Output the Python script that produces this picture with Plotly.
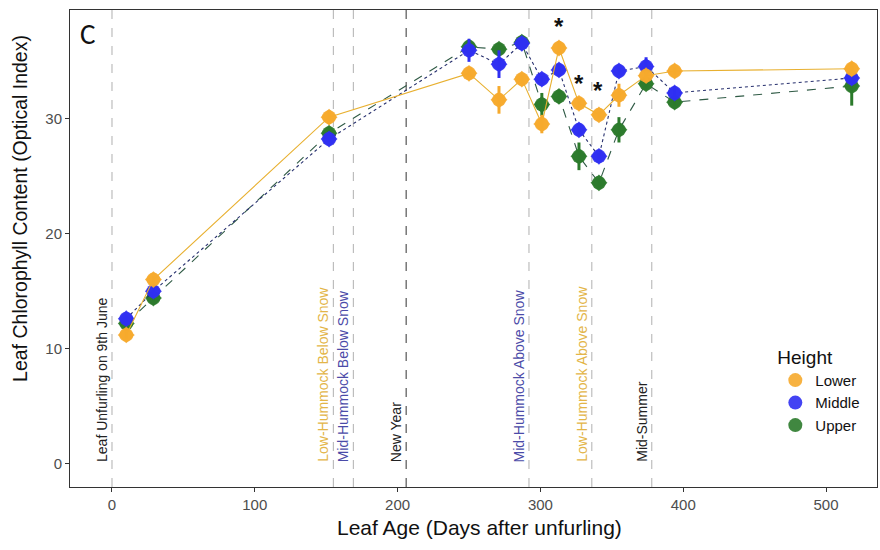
import plotly.graph_objects as go

days = [10, 29, 152, 250, 271, 287, 301, 313, 327, 341, 355, 374, 394, 518]
lower = [11.2, 16.0, 30.1, 33.9, 31.6, 33.4, 29.5, 36.1, 31.3, 30.3, 32.0, 33.7, 34.1, 34.3]
middle = [12.6, 15.0, 28.2, 35.9, 34.7, 36.5, 33.4, 34.2, 29.0, 26.7, 34.1, 34.5, 32.2, 33.5]
upper = [12.2, 14.4, 28.7, 36.2, 36.0, 36.6, 31.2, 31.9, 26.7, 24.4, 29.0, 33.0, 31.4, 32.8]
lower_err = [0.3, 0.3, 0.6, 0.3, 1.2, 0.4, 0.8, 0.6, 0.4, 0.3, 1.0, 0.4, 0.3, 0.6]
middle_err = [0.3, 0.3, 0.3, 1.0, 1.2, 0.5, 0.3, 0.5, 0.5, 0.3, 0.3, 0.8, 0.6, 0.4]
upper_err = [0.3, 0.3, 0.3, 0.6, 0.5, 0.6, 1.0, 0.6, 1.2, 0.4, 1.1, 0.4, 0.3, 1.7]

event_days = [0, 155, 169, 206, 292, 336, 378]
event_labels = ["Leaf Unfurling on 9th June", "Low-Hummock Below Snow", "Mid-Hummock Below Snow",
                "New Year", "Mid-Hummock Above Snow", "Low-Hummock Above Snow", "Mid-Summer"]
event_colors = ["#222222", "#E3B548", "#4B4BA8", "#222222", "#4B4BA8", "#E3B548", "#222222"]

star_x = [313, 327, 340]
star_y = [38.0, 33.0, 32.4]

FONT = "Liberation Sans, Arial, sans-serif"

fig = go.Figure()

series = [
    ("Upper", upper, upper_err, "#2B7A2B", "#2F5A45", "dash", 3),
    ("Middle", middle, middle_err, "#2F2FF2", "#27306E", "dot", 2),
    ("Lower", lower, lower_err, "#F6AA2C", "#E8B030", "solid", 1),
]

for name, vals, err, mcol, lcol, dash, rank in series:
    fig.add_trace(go.Scatter(
        x=days, y=vals, name=name, mode="lines",
        line=dict(color=lcol, width=1.1, dash=dash),
        showlegend=False, hoverinfo="skip"))
    fig.add_trace(go.Scatter(
        x=days, y=vals, name=name, mode="markers",
        marker=dict(symbol="circle", size=14, color=mcol, opacity=0.9, line=dict(width=0)),
        error_y=dict(type="data", array=err, visible=True, color=mcol, thickness=3, width=0),
        legendrank=rank, showlegend=True))
    fig.add_trace(go.Scatter(
        x=days, y=vals, name=name, mode="markers",
        marker=dict(symbol="diamond", size=13, color=mcol, opacity=0.9, line=dict(width=0)),
        showlegend=False, hoverinfo="skip"))

for d, lab, col in zip(event_days, event_labels, event_colors):
    is_ny = lab == "New Year"
    fig.add_shape(type="line", x0=d, x1=d, y0=0, y1=1, xref="x", yref="paper",
                  line=dict(color="#555555" if is_ny else "#B0B0B0", width=1.2 if is_ny else 1,
                            dash="dash"), layer="below")
    fig.add_annotation(x=d, y=0, xref="x", yref="y", text=lab, textangle=-90,
                       showarrow=False, xanchor="right", yanchor="bottom", xshift=0,
                       font=dict(family=FONT, size=14, color=col))

for sx, sy in zip(star_x, star_y):
    fig.add_annotation(x=sx, y=sy, xref="x", yref="y", text="<b>*</b>", showarrow=False,
                       font=dict(family=FONT, size=24, color="#111111"))

fig.add_annotation(x=0.01, y=0.992, xref="paper", yref="paper", text="C", showarrow=False,
                   xanchor="left", yanchor="top",
                   font=dict(family="Carlito, Calibri, sans-serif", size=29, color="#111111"))

# axis titles
fig.add_annotation(x=-0.062, y=0.585, xref="paper", yref="paper",
                   text="Leaf Chlorophyll Content (Optical Index)", textangle=-90,
                   showarrow=False, xanchor="center", yanchor="middle",
                   font=dict(family=FONT, size=19.5, color="#111111"))
fig.add_annotation(x=0.507, y=-0.084, xref="paper", yref="paper",
                   text="Leaf Age (Days after unfurling)",
                   showarrow=False, xanchor="center", yanchor="middle",
                   font=dict(family=FONT, size=21, color="#111111"))

fig.update_layout(
    width=880, height=550,
    margin=dict(l=70, r=3, t=10, b=63),
    paper_bgcolor="white", plot_bgcolor="white",
    font=dict(family=FONT),
    legend=dict(title=dict(text="Height", font=dict(size=19, color="#111111")),
                x=0.874, y=0.31, xanchor="left", yanchor="top",
                font=dict(size=15, color="#111111"), itemwidth=30,
                tracegroupgap=0, bgcolor="rgba(255,255,255,0)"),
    xaxis=dict(range=[-29.4, 535.7], tickvals=[0, 100, 200, 300, 400, 500],
               showgrid=False, zeroline=False, showline=True, mirror=True,
               linecolor="#333333", linewidth=1, ticks="outside", ticklen=4,
               tickcolor="#333333", tickfont=dict(size=15, color="#4D4D4D")),
    yaxis=dict(range=[-2.0, 39.4], tickvals=[0, 10, 20, 30],
               showgrid=False, zeroline=False, showline=True, mirror=True,
               linecolor="#333333", linewidth=1, ticks="outside", ticklen=4,
               tickcolor="#333333", tickfont=dict(size=15, color="#4D4D4D")),
)

fig.write_html("out.html")
